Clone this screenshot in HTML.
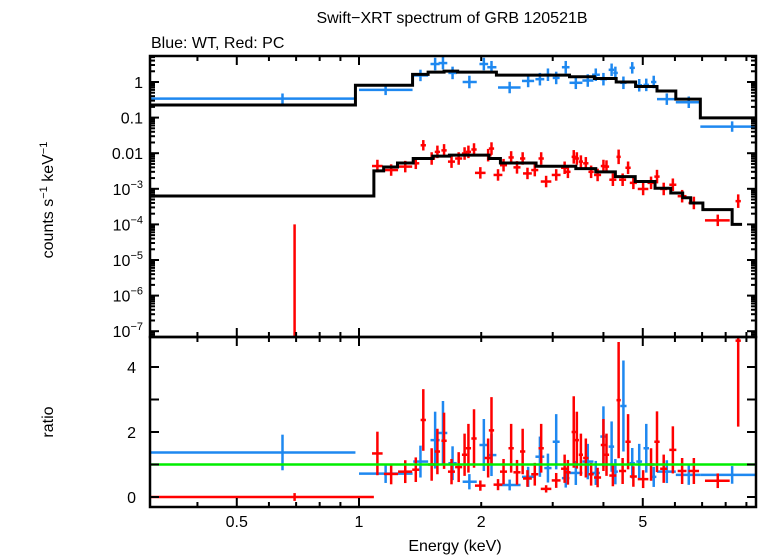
<!DOCTYPE html>
<html><head><meta charset="utf-8"><style>
html,body{margin:0;padding:0;background:#fff}
svg{display:block;font-family:"Liberation Sans",sans-serif}
</style></head><body>
<svg id="chart" width="758" height="556" viewBox="0 0 758 556" xmlns="http://www.w3.org/2000/svg">
<text x="452" y="23" font-size="16" text-anchor="middle">Swift−XRT spectrum of GRB 120521B</text>
<text x="151" y="48" font-size="16">Blue: WT, Red: PC</text>
<text transform="translate(53,200) rotate(-90)" font-size="16" text-anchor="middle">counts s<tspan font-size="11" dy="-6">−1</tspan><tspan dy="6"> keV</tspan><tspan font-size="11" dy="-6">−1</tspan></text>
<text transform="translate(53,422) rotate(-90)" font-size="16" text-anchor="middle">ratio</text>
<text x="455" y="551" font-size="16" text-anchor="middle">Energy (keV)</text>
<g id="g"></g>
</svg>
<script>
// ---- data ----
const blueE=[0.648,1.163,1.417,1.54,1.61,1.70,1.87,2.03,2.12,2.35,2.61,2.79,2.92,3.06,3.23,3.42,3.66,3.83,4.00,4.19,4.28,4.48,4.71,4.90,5.10,5.32,5.73,6.49,8.30];
const blueLo=[0.30,1.0,1.36,1.50,1.57,1.66,1.80,1.98,2.07,2.20,2.52,2.72,2.86,3.0,3.16,3.30,3.55,3.75,3.93,4.12,4.23,4.40,4.64,4.82,5.02,5.24,5.42,6.03,6.93];
const blueHi=[0.98,1.355,1.48,1.58,1.65,1.74,1.95,2.08,2.18,2.50,2.70,2.86,2.98,3.12,3.30,3.55,3.78,3.92,4.08,4.25,4.34,4.56,4.78,4.98,5.18,5.40,6.03,6.93,9.7];
const blueCts=[0.34,0.6,1.53,3.2,3.4,1.8,1.0,3.2,2.6,0.7,1.07,1.2,1.6,1.3,2.6,0.95,1.1,1.6,1.2,2.2,1.8,0.95,2.5,0.81,0.83,1.0,0.33,0.27,0.056];
const blueRatio=[1.37,0.72,1.09,1.75,1.97,1.04,0.47,1.6,1.29,0.37,0.62,1.24,0.89,1.70,0.58,0.74,1.09,0.74,1.86,1.55,0.78,2.8,1.04,1.09,1.5,0.62,0.78,0.68,0.68];
const blueRelErr=[0.4,0.4,0.45,0.5,0.5,0.5,0.5,0.5,0.5,0.45,0.5,0.5,0.5,0.5,0.5,0.5,0.5,0.5,0.5,0.5,0.5,0.5,0.45,0.5,0.5,0.5,0.45,0.45,0.4];
const blueModelEdges=[0.30,0.98,1.355,1.48,1.62,1.75,2.18,3.3,3.8,4.3,4.8,5.42,6.03,6.93,9.7];
const blueModelVals=[0.225,0.81,1.64,1.9,2.02,1.9,1.56,1.4,1.25,1.0,0.75,0.56,0.33,0.098];

const redE=[1.11,1.20,1.30,1.38,1.44,1.51,1.56,1.62,1.69,1.76,1.82,1.86,1.92,1.99,2.08,2.12,2.20,2.27,2.37,2.45,2.53,2.60,2.71,2.81,2.89,3.06,3.21,3.27,3.38,3.44,3.52,3.62,3.73,3.87,4.00,4.07,4.22,4.36,4.46,4.60,4.74,5.01,5.24,5.42,5.63,5.93,6.25,6.68,7.65,8.59];
const redCts=[4.36e-3,3.36e-3,4.2e-3,5.2e-3,1.67e-2,7.1e-3,1.09e-2,1.2e-2,5.8e-3,7.1e-3,9.8e-3,1.09e-2,1.27e-2,2.8e-3,8.8e-3,1.35e-2,2.45e-3,4.6e-3,7.6e-3,4.0e-3,7.1e-3,2.7e-3,3.36e-3,7.1e-3,1.6e-3,2.45e-3,3.9e-3,3.0e-3,7.9e-3,7.1e-3,5.8e-3,5.2e-3,3.0e-3,2.45e-3,4.36e-3,4.2e-3,1.8e-3,7.9e-3,1.8e-3,3.9e-3,1.47e-3,9.9e-4,1.47e-3,2.2e-3,9.9e-4,1.3e-3,6.2e-4,4.0e-4,1.3e-4,4.5e-4];
const redRatio=[1.34,0.71,0.78,0.84,2.37,1.0,1.4,1.73,0.78,0.92,1.3,1.5,1.8,0.35,1.2,2.05,0.38,0.78,1.5,0.76,1.4,0.57,0.7,1.5,0.25,0.51,0.87,0.76,2.0,1.75,1.3,1.2,0.7,0.6,1.6,1.3,0.66,2.98,0.8,1.7,0.63,0.55,1.0,1.7,0.87,1.45,0.8,0.8,0.5,4.81];
const redHalfW=[0.03,0.04,0.04,0.02,0.015,0.02,0.015,0.015,0.02,0.02,0.015,0.015,0.015,0.03,0.02,0.015,0.025,0.02,0.015,0.02,0.015,0.025,0.02,0.015,0.03,0.025,0.02,0.015,0.012,0.012,0.012,0.015,0.015,0.02,0.015,0.015,0.02,0.012,0.02,0.015,0.02,0.03,0.02,0.015,0.02,0.02,0.025,0.03,0.07,0.015];
const redRelErr=[0.5,0.45,0.45,0.45,0.4,0.5,0.5,0.5,0.5,0.5,0.5,0.5,0.5,0.45,0.5,0.5,0.45,0.5,0.5,0.5,0.5,0.45,0.5,0.5,0.45,0.45,0.5,0.5,0.55,0.5,0.5,0.5,0.5,0.5,0.5,0.5,0.5,0.6,0.5,0.5,0.5,0.5,0.5,0.55,0.5,0.5,0.5,0.5,0.45,0.55];
const redModelEdges=[0.30,1.088,1.15,1.244,1.36,1.52,1.67,2.09,2.23,2.73,3.42,3.83,4.28,4.79,5.36,5.86,6.27,6.56,7.03,8.30,8.78];
const redModelVals=[6.3e-4,3.2e-3,4.1e-3,5.3e-3,7.1e-3,8.3e-3,8.8e-3,7.1e-3,5.3e-3,4.3e-3,3.7e-3,3.0e-3,2.2e-3,1.6e-3,1.04e-3,7.6e-4,5.6e-4,4.0e-4,2.6e-4,1.0e-4];
const redLowE=[0.694], redLowLo=[0.30], redLowHi=[1.088], redLowTop=[1.0e-4], redLowRatio=[0.0];

const xTickVals=[0.5,1,2,5];
const xTickLabels=["0.5","1","2","5"];
const yTopExp=[0,-1,-2,-3,-4,-5,-6,-7];
const yTopLabels=["1","0.1","0.01","10|−3","10|−4","10|−5","10|−6","10|−7"];
const yBotTicks=[0,2,4];

// ---- axes ----
const L=150,R=756,T1=56,B1=337,T2=337,B2=507;
const xs=e=>359+406*Math.log10(e);
const yt=v=>82-35.6*Math.log10(v);
const yb=r=>497-32.5*r;
const NS="http://www.w3.org/2000/svg";
const g=document.getElementById('g');
function mk(tag,attrs,parent){const el=document.createElementNS(NS,tag);for(const k in attrs)el.setAttribute(k,attrs[k]);(parent||g).appendChild(el);return el;}
function clipRect(id,y0,y1){const cp=mk('clipPath',{id:id});mk('rect',{x:L,y:y0,width:R-L,height:y1-y0},cp);}
clipRect('c1',T1,B1);clipRect('c2',T2,B2);
const topP=mk('g',{'clip-path':'url(#c1)'});


const botP=mk('g',{'clip-path':'url(#c2)'});



function line(p,x1,y1,x2,y2,c,w){return mk('line',{x1,y1,x2,y2,stroke:c,'stroke-width':w},p);}
function cross(p,x,lo,hi,y,ylo,yhi,c,name){
  const grp=mk('g',{},p);
  
  
  line(grp,xs(lo),y,xs(hi),y,c,2.5);
  line(grp,xs(x),ylo,xs(x),yhi,c,2.5);
}
function step(p,edges,vals,c,w,name,yfn){
  let d='';
  for(let i=0;i<vals.length;i++){const y=yfn(vals[i]);d+=(i?'L':'M')+xs(edges[i])+','+y+'L'+xs(edges[i+1])+','+y;}
  const pth=mk('path',{d:d,fill:'none',stroke:c,'stroke-width':w},p);
  
  
}
const BLUE='#1e88f0',RED='#ff0000';
for(let i=0;i<blueE.length;i++){const v=blueCts[i],f=blueRelErr[i];
  cross(topP,blueE[i],blueLo[i],blueHi[i],yt(v),yt(v*(1+f)),yt(v/(1+f)),BLUE,'wt-point');}
for(let i=0;i<redE.length;i++){const v=redCts[i],f=redRelErr[i],e=redE[i];
  cross(topP,e,e*(1-redHalfW[i]),e*(1+redHalfW[i]),yt(v),yt(v*(1+f)),yt(v/(1+f)),RED,'pc-point');}
for(let i=0;i<redLowE.length;i++){
  const ln=line(topP,xs(redLowE[i]),yt(redLowTop[i]),xs(redLowE[i]),B1+5,RED,2.5);
  
  }
step(topP,blueModelEdges,blueModelVals,'#000',3,'wt-model',yt);
step(topP,redModelEdges,redModelVals,'#000',3,'pc-model',yt);
for(let i=0;i<blueE.length;i++){const r=blueRatio[i],f=blueRelErr[i]*r;
  cross(botP,blueE[i],blueLo[i],blueHi[i],yb(r),yb(r+f),yb(Math.max(r-f,-1)),BLUE,'wt-ratio-point');}
for(let i=0;i<redE.length;i++){const r=redRatio[i],f=redRelErr[i]*r,e=redE[i];
  cross(botP,e,e*(1-redHalfW[i]),e*(1+redHalfW[i]),yb(r),yb(r+f),yb(r-f),RED,'pc-ratio-point');}
for(let i=0;i<redLowE.length;i++){
  cross(botP,redLowE[i],redLowLo[i],redLowHi[i],yb(redLowRatio[i]),yb(redLowRatio[i]+0.12),yb(redLowRatio[i]-0.12),RED,'pc-ratio-low-point');}
const unity=line(botP,L,yb(1),R,yb(1),'#00ee00',2.5);



for(const [y0,y1,nm] of [[T1,B1,'top-frame'],[T2,B2,'ratio-frame']]){
  const fr=mk('rect',{x:L,y:y0,width:R-L,height:y1-y0,fill:'none',stroke:'#000','stroke-width':2.5});
  
  
}
for(let d=-1;d<=0;d++)for(let m=1;m<=9;m++){const e=m*Math.pow(10,d);const x=xs(e);if(x<L||x>R)continue;
  const len=(m===1||m===5)?9:5;
  for(const [y,dir] of [[T1,1],[B1,-1],[T2,1],[B2,-1]]) line(g,x,y,x,y+dir*len,'#000',2);}
xTickVals.forEach((v,i)=>{const t=mk('text',{x:xs(v),y:527,'font-size':16,'text-anchor':'middle'});t.textContent=xTickLabels[i];
  
  });
for(let d=-8;d<=0;d++)for(let m=1;m<=9;m++){const y=yt(m*Math.pow(10,d));if(y<T1||y>B1)continue;const len=m===1?9:5;
  line(g,L,y,L+len,y,'#000',2);line(g,R,y,R-len,y,'#000',2);}
yTopExp.forEach((ex,i)=>{const y=yt(Math.pow(10,ex));const parts=yTopLabels[i].split('|');
  const t=mk('text',{x:143,y:y+6,'font-size':16,'text-anchor':'end'});
  
  
  if(parts.length===1)t.textContent=parts[0];
  else{const a=mk('tspan',{},t);a.textContent=parts[0];const b=mk('tspan',{'font-size':11,dy:-7},t);b.textContent=parts[1];}});
for(let r=0;r<=4;r++){const y=yb(r);line(g,L,y,L+9,y,'#000',2);line(g,R,y,R-9,y,'#000',2);}
yBotTicks.forEach(r=>{const t=mk('text',{x:136,y:yb(r)+6,'font-size':16,'text-anchor':'end'});t.textContent=String(r);
  
  });
</script>
</body></html>
